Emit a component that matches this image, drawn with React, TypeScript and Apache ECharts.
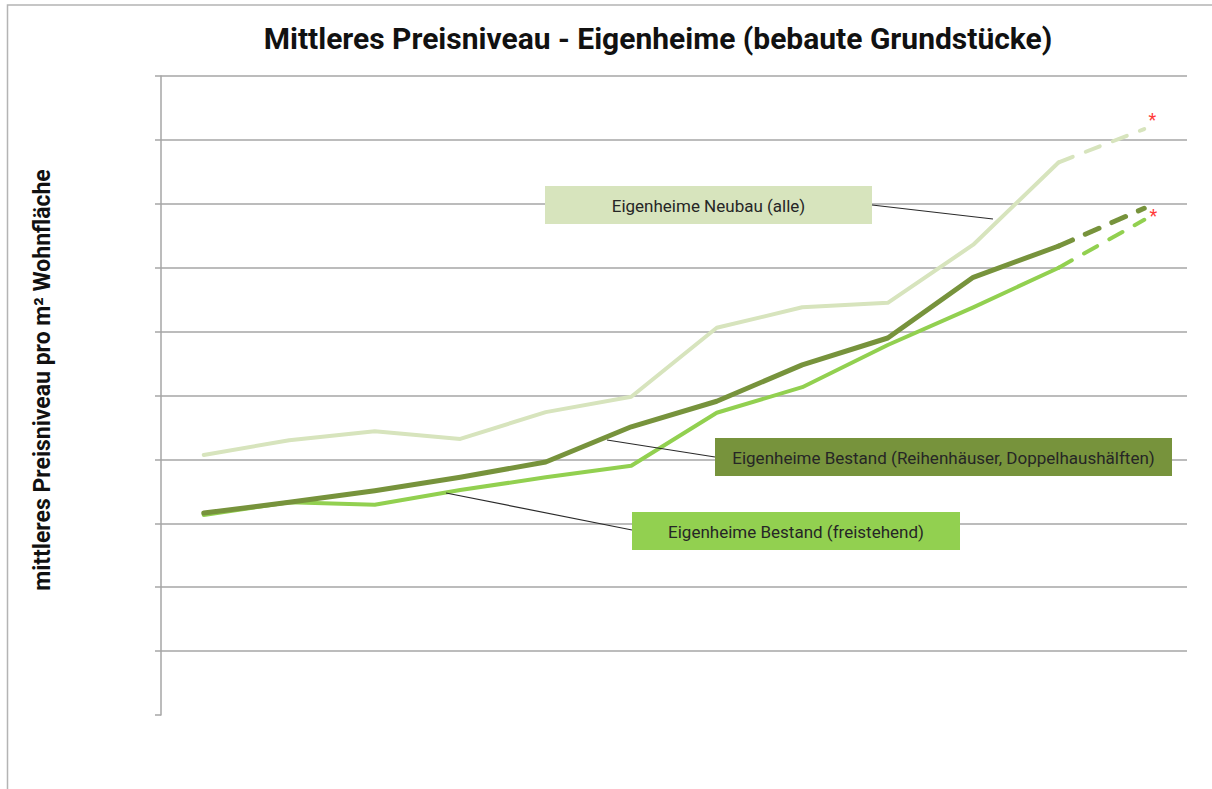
import React, { useEffect, useRef } from "react";
import * as echarts from "echarts";

// x categories (years, labels not shown in the reference)
const categories = ["2010", "2011", "2012", "2013", "2014", "2015", "2016", "2017", "2018", "2019", "2020", "2021"];
// values (axis units, grid step = 1)
const neubau = [4.07, 4.3, 4.44, 4.32, 4.74, 4.98, 6.06, 6.38, 6.45, 7.36, 8.65, 9.17];
const reihen = [3.16, 3.33, 3.51, 3.72, 3.96, 4.51, 4.91, 5.48, 5.9, 6.85, 7.34, 7.93];
const frei = [3.13, 3.33, 3.29, 3.52, 3.72, 3.9, 4.73, 5.13, 5.79, 6.38, 7.0, 7.75];
// index from which values are estimates (dashed)
const estimateFrom = 10;

const seriesNames = [
  "Eigenheime Neubau (alle)",
  "Eigenheime Bestand (Reihenhäuser, Doppelhaushälften)",
  "Eigenheime Bestand (freistehend)",
];
const colors = ["#d7e4bd", "#77933c", "#92d050"];

const title = "Mittleres Preisniveau - Eigenheime (bebaute Grundstücke)";
const yTitle = "mittleres Preisniveau pro m² Wohnfläche";

function solidPart(arr: number[]) {
  return arr.map((v, i) => (i <= estimateFrom ? v : null));
}
function dashedPart(arr: number[], star: boolean, offset: number[]) {
  return arr.map((v, i) => {
    if (i < estimateFrom) return null;
    if (i === arr.length - 1 && star) {
      return {
        value: v,
        label: {
          show: true,
          formatter: "*",
          position: "inside",
          offset,
          color: "#ff3b3b",
          fontSize: 18,
          fontFamily: "Roboto",
        },
      };
    }
    return v;
  });
}

export default function App() {
  const ref = useRef<HTMLDivElement>(null);
  useEffect(() => {
    if (!ref.current) return;
    const chart = echarts.init(ref.current, null, { renderer: "svg" });
    const data = [neubau, frei, reihen];
    const order = [0, 2, 1];
    const widths = [4, 5, 4];
    const starOffsets: Record<number, number[] | null> = {
      0: [8, -10],
      2: [9, -4],
      1: null,
    };
    const series: any[] = [];
    order.forEach((ci, k) => {
      const arr = data[k];
      series.push({
        name: seriesNames[ci],
        type: "line",
        data: solidPart(arr),
        showSymbol: false,
        symbol: "none",
        lineStyle: { color: colors[ci], width: widths[ci], cap: "round", join: "round" },
        z: 2 + k,
      });
      const off = starOffsets[ci];
      series.push({
        name: seriesNames[ci] + " (Schätzung)",
        type: "line",
        data: dashedPart(arr, !!off, off || [0, 0]),
        showSymbol: true,
        symbol: "circle",
        symbolSize: 0,
        lineStyle: { color: colors[ci], width: widths[ci], type: [15, 14], cap: "round" },
        itemStyle: { color: colors[ci] },
        z: 2 + k,
      });
    });

    const gridColors = ["rgba(0,0,0,0)"].concat(new Array(10).fill("#a6a6a6"));

    const box = (x: number, y: number, w: number, h: number, fill: string, text: string) => [
      { type: "rect", shape: { x, y, width: w, height: h }, style: { fill }, z: 30 },
      {
        type: "text",
        x: x + w / 2,
        y: y + h / 2 + 1,
        z: 31,
        style: {
          text,
          fill: "#262626",
          font: "17px Roboto",
          align: "center",
          verticalAlign: "middle",
        },
      },
    ];
    const leader = (x1: number, y1: number, x2: number, y2: number) => ({
      type: "line",
      shape: { x1, y1, x2, y2 },
      style: { stroke: "#2a2a2a", lineWidth: 1.2 },
      z: 29,
    });

    chart.setOption({
      animation: false,
      grid: { left: 161, right: 25, top: 76, bottom: 74, containLabel: false },
      xAxis: {
        type: "category",
        data: categories,
        boundaryGap: true,
        axisLine: { show: false },
        axisTick: { show: false },
        axisLabel: { show: false },
        splitLine: { show: false },
      },
      yAxis: {
        type: "value",
        min: 0,
        max: 10,
        interval: 1,
        axisLine: { show: true, lineStyle: { color: "#a6a6a6", width: 1.5 } },
        axisTick: { show: true, length: 6, lineStyle: { color: "#a6a6a6", width: 1.5 } },
        axisLabel: { show: false },
        splitLine: { show: true, lineStyle: { color: gridColors, width: 1.5 } },
      },
      series,
      graphic: [
        {
          type: "polyline",
          shape: { points: [[7.5, 789], [7.5, 5], [1212, 5]] },
          style: { stroke: "#b4b4b4", lineWidth: 1.5, fill: "none" },
        },
        {
          type: "text",
          x: 658,
          y: 38,
          style: {
            text: title,
            font: "bold 30px Roboto",
            fill: "#111",
            align: "center",
            verticalAlign: "middle",
          },
        },
        {
          type: "text",
          x: 42,
          y: 380,
          rotation: Math.PI / 2,
          style: {
            text: yTitle,
            font: "bold 23px Roboto",
            fill: "#111",
            align: "center",
            verticalAlign: "middle",
          },
        },
        leader(872, 205, 993, 219),
        leader(607, 440, 715, 457),
        leader(446, 493, 632, 530),
        ...box(545, 186, 327, 38, colors[0], seriesNames[0]),
        ...box(715, 438, 457, 38, colors[1], seriesNames[1]),
        ...box(632, 512, 328, 38, colors[2], seriesNames[2]),
      ],
    });
    return () => chart.dispose();
  }, []);
  return (
    <div
      ref={ref}
      style={{ position: "fixed", left: 0, top: 0, width: 1212, height: 789, background: "#fff" }}
    />
  );
}
